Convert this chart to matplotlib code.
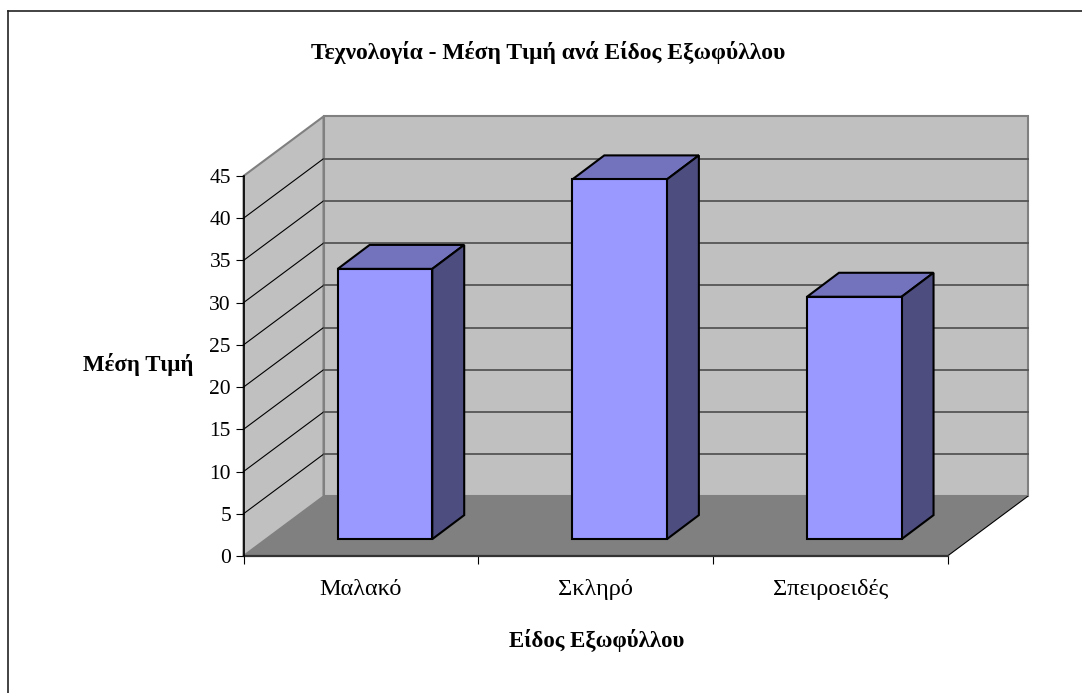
import matplotlib
matplotlib.use("Agg")
import matplotlib.pyplot as plt
from matplotlib.patches import Polygon
from matplotlib.lines import Line2D

plt.rcParams['font.family'] = ['Liberation Serif', 'DejaVu Serif']

title = "Τεχνολογία - Μέση Τιμή ανά Είδος Εξωφύλλου"
xlabel = "Είδος Εξωφύλλου"
ylabel = "Μέση Τιμή"
categories = ["Μαλακό", "Σκληρό", "Σπειροειδές"]
values = [32.0, 42.6, 28.7]
yticks = [0, 5, 10, 15, 20, 25, 30, 35, 40, 45]

W, H = 1082, 693
# depth of the fake 3d box, in data units
depth_x = 0.341
depth_y = 7.05
# bars sit part way into the box
bar_w = 0.403
bar_dx = 0.136
bar_dy = 2.84
bar_off_x = 0.103
bar_off_y = 2.0

fig = plt.figure(figsize=(W / 100, H / 100), dpi=100, facecolor="white")
ax = fig.add_axes([243.5 / W, (H - 556) / H, 704 / W, 380 / H])
n = len(categories)
ax.set_xlim(0, n)
ax.set_ylim(0, yticks[-1])
for s in ax.spines.values():
    s.set_visible(False)
ax.patch.set_visible(False)

ymax = yticks[-1]

# walls and floor
ax.add_patch(Polygon([(depth_x, depth_y), (n + depth_x, depth_y), (n + depth_x, ymax + depth_y), (depth_x, ymax + depth_y)],
                     fc="#C0C0C0", ec="#808080", lw=1.5, clip_on=False, zorder=1))
ax.add_patch(Polygon([(0, 0), (depth_x, depth_y), (depth_x, ymax + depth_y), (0, ymax)],
                     fc="#C0C0C0", ec="#808080", lw=1.5, clip_on=False, zorder=1))
ax.add_patch(Polygon([(0, 0), (n, 0), (n + depth_x, depth_y), (depth_x, depth_y)],
                     fc="#808080", ec="none", clip_on=False, zorder=2))

# grid lines
for v in yticks[1:-1]:
    ax.plot([0, depth_x], [v, v + depth_y], color="black", lw=0.8, clip_on=False, zorder=3)
    ax.plot([depth_x, n + depth_x], [v + depth_y, v + depth_y], color="#555555", lw=1.3, clip_on=False, zorder=3)
ax.plot([n, n + depth_x], [0, depth_y], color="black", lw=0.8, clip_on=False, zorder=3)
ax.plot([0, n], [0, 0], color="#333333", lw=1.6, clip_on=False, zorder=4)
ax.plot([0, 0], [0, ymax], color="black", lw=1.2, clip_on=False, zorder=4)

# bars
for i, val in enumerate(values):
    x0 = i + 0.5 + bar_off_x - bar_w / 2
    x1 = x0 + bar_w
    y0 = bar_off_y
    y1 = val + bar_off_y
    ax.add_patch(Polygon([(x0, y1), (x1, y1), (x1 + bar_dx, y1 + bar_dy), (x0 + bar_dx, y1 + bar_dy)],
                         fc="#7373BD", ec="black", lw=1.5, joinstyle="miter", clip_on=False, zorder=5))
    ax.add_patch(Polygon([(x1, y0), (x1 + bar_dx, y0 + bar_dy), (x1 + bar_dx, y1 + bar_dy), (x1, y1)],
                         fc="#4D4D80", ec="black", lw=1.5, joinstyle="miter", clip_on=False, zorder=5))
    ax.add_patch(Polygon([(x0, y0), (x1, y0), (x1, y1), (x0, y1)],
                         fc="#9999FF", ec="black", lw=1.5, joinstyle="miter", clip_on=False, zorder=6))

ax.set_xticks(range(n + 1))
ax.set_xticklabels([])
ax.set_xticks([i + 0.5 for i in range(n)], minor=True)
ax.set_xticklabels(categories, minor=True, fontsize=17.5, color="black")
ax.tick_params(axis="x", which="major", length=6, width=0.8, direction="out", pad=0)
ax.tick_params(axis="x", which="minor", length=0, pad=16.5)
ax.set_yticks(yticks)
ax.set_yticklabels([str(v) for v in yticks], fontsize=15.5)
ax.tick_params(axis="y", length=6, width=0.8, direction="out", pad=3)

fig.text(548 / W, 1 - 53 / H, title, ha="center", va="center", fontsize=17, fontweight="bold")
fig.text(597 / W, 1 - 640 / H, xlabel, ha="center", va="center", fontsize=16.5, fontweight="bold")
fig.text(138 / W, 1 - 364 / H, ylabel, ha="center", va="center", fontsize=16.5, fontweight="bold")

# outer frame of the chart, open on the right
fig.add_artist(Line2D([7.5 / W, 7.5 / W], [0, 1 - 11 / H], color="#222222", lw=1.2))
fig.add_artist(Line2D([7.5 / W, 1], [1 - 11 / H, 1 - 11 / H], color="#222222", lw=1.2))

fig.savefig("out.png", dpi=100)
